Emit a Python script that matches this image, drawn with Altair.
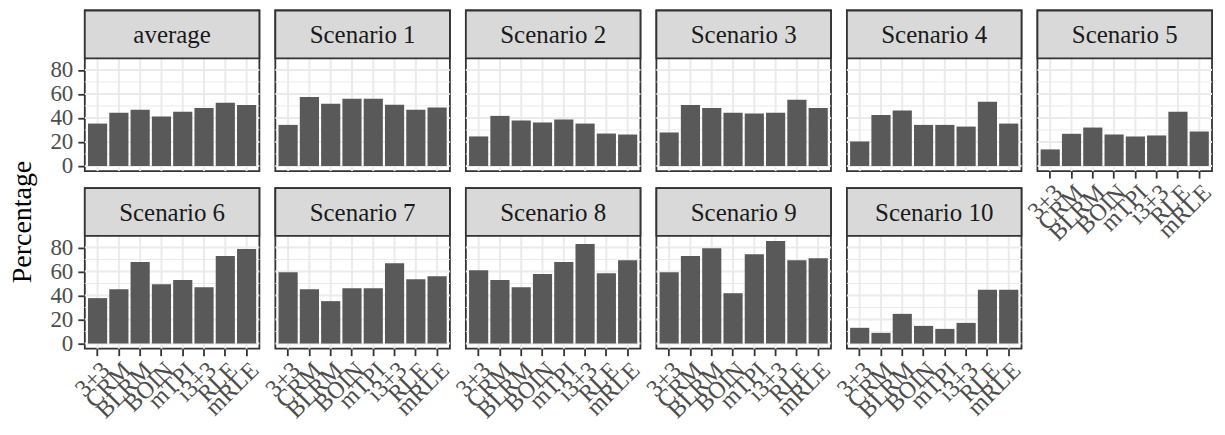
import altair as alt
import pandas as pd

methods = ["3+3", "CRM", "BLRM", "BOIN", "mTPI", "i3+3", "RLE", "mRLE"]
panels = ["average", "Scenario 1", "Scenario 2", "Scenario 3", "Scenario 4", "Scenario 5",
          "Scenario 6", "Scenario 7", "Scenario 8", "Scenario 9", "Scenario 10"]

average = [35.3, 44.4, 46.9, 41.1, 45.2, 48.3, 52.7, 50.8]
scenario_1 = [34.2, 57.4, 51.9, 56.0, 56.0, 51.0, 46.9, 48.6]
scenario_2 = [24.6, 41.7, 37.8, 36.1, 38.6, 35.3, 27.0, 26.2]
scenario_3 = [27.9, 50.8, 48.3, 44.4, 43.6, 44.4, 55.2, 48.3]
scenario_4 = [20.4, 42.5, 46.1, 34.2, 34.2, 32.8, 53.5, 35.3]
scenario_5 = [13.8, 26.8, 32.0, 26.2, 24.6, 25.4, 45.2, 28.7]
scenario_6 = [37.8, 45.3, 67.8, 49.4, 52.8, 46.9, 72.8, 78.6]
scenario_7 = [59.4, 45.3, 35.3, 46.1, 46.1, 66.9, 53.6, 56.1]
scenario_8 = [61.1, 52.8, 46.9, 57.8, 67.8, 82.8, 58.6, 69.4]
scenario_9 = [59.4, 72.8, 79.4, 41.9, 74.4, 85.3, 69.4, 71.1]
scenario_10 = [13.1, 8.9, 24.7, 14.7, 12.2, 17.2, 44.7, 44.7]

series = [average, scenario_1, scenario_2, scenario_3, scenario_4, scenario_5,
          scenario_6, scenario_7, scenario_8, scenario_9, scenario_10]

major_breaks = [0, 20, 40, 60, 80]
minor_breaks = [10, 30, 50, 70]
y_title = "Percentage"

FONT = "Liberation Serif"
PW, PH, SH = 175, 113, 48
TOTAL_H = SH + PH
ymax = max(max(s) for s in series)
YDOM = [-0.05 * ymax, 1.05 * ymax]
BORDER = "#333333"
GRID = "#EBEBEB"


def yscale():
    return alt.Scale(domain=YDOM, nice=False, zero=False, range=[TOTAL_H, SH])


def xscale():
    return alt.Scale(domain=methods, paddingInner=0.1, paddingOuter=0.15)


def panel(idx, name, vals, show_y, show_x):
    d = pd.DataFrame({"method": methods, "value": vals})
    g = pd.DataFrame({"method": methods,
                      "major": major_breaks + [None] * (len(methods) - len(major_breaks)),
                      "minor": minor_breaks + [None] * (len(methods) - len(minor_breaks))})
    if show_y:
        yaxis = alt.Axis(title=None, values=major_breaks, grid=False, domain=False,
                         tickColor=BORDER, tickSize=7, tickWidth=1.8, labelFont=FONT,
                         labelFontSize=23, labelColor="#4D4D4D", labelPadding=5)
    else:
        yaxis = None
    if show_x:
        xaxis = alt.Axis(title=None, grid=False, domain=False, tickColor=BORDER, tickSize=7,
                         tickWidth=1.8, labelFont=FONT, labelFontSize=24, labelColor="#4D4D4D",
                         labelAngle=-45, labelAlign="right", labelBaseline="top",
                         labelPadding=2, labelOverlap=False)
    else:
        xaxis = None
    base = alt.Chart(g)
    hmin = base.mark_rule(color=GRID, strokeWidth=1.0).encode(
        y=alt.Y("minor:Q", scale=yscale(), axis=yaxis))
    hmaj = base.mark_rule(color=GRID, strokeWidth=2.0).encode(
        y=alt.Y("major:Q", scale=yscale(), axis=yaxis))
    vmaj = base.mark_rule(color=GRID, strokeWidth=2.0).encode(
        x=alt.X("method:N", sort=methods, scale=xscale(), axis=xaxis),
        y=alt.value(SH), y2=alt.value(TOTAL_H))
    bars = alt.Chart(d).mark_bar(color="#595959").encode(
        x=alt.X("method:N", sort=methods, scale=xscale(), axis=xaxis),
        y=alt.Y("value:Q", scale=yscale(), axis=yaxis),
        y2=alt.datum(0))
    sd = pd.DataFrame({"label": [name]})
    box = alt.Chart(sd).mark_rect(fill="#D9D9D9", stroke=BORDER, strokeWidth=1.8).encode(
        x=alt.value(0), x2=alt.value(PW), y=alt.value(0), y2=alt.value(SH))
    txt = alt.Chart(sd).mark_text(font=FONT, fontSize=25, color="#1A1A1A",
                                  baseline="middle").encode(
        text="label:N", x=alt.value(PW / 2), y=alt.value(SH / 2 + 1))
    layers = [hmin, hmaj, vmaj, bars, box, txt]
    if idx == 0:
        tt = alt.Chart(pd.DataFrame({"t": [y_title]})).mark_text(
            angle=270, font=FONT, fontSize=28, color="black", baseline="middle").encode(
            text="t:N", x=alt.value(-62), y=alt.value(212))
        layers.append(tt)
    return alt.layer(*layers).properties(
        width=PW, height=TOTAL_H,
        view=alt.ViewBackground(stroke=BORDER, strokeWidth=1.8, fill="white"))


charts = []
for i, (name, vals) in enumerate(zip(panels, series)):
    col = i % 6
    row = i // 6
    show_y = col == 0
    show_x = row == 1 or col == 5
    charts.append(panel(i, name, vals, show_y, show_x))

chart = alt.concat(*charts, columns=6, spacing=alt.RowColnumber(row=17, column=16),
                   bounds="flush").properties(padding=0, background="white")

chart.save("out.html", embed_options={"renderer": "svg", "actions": False})
